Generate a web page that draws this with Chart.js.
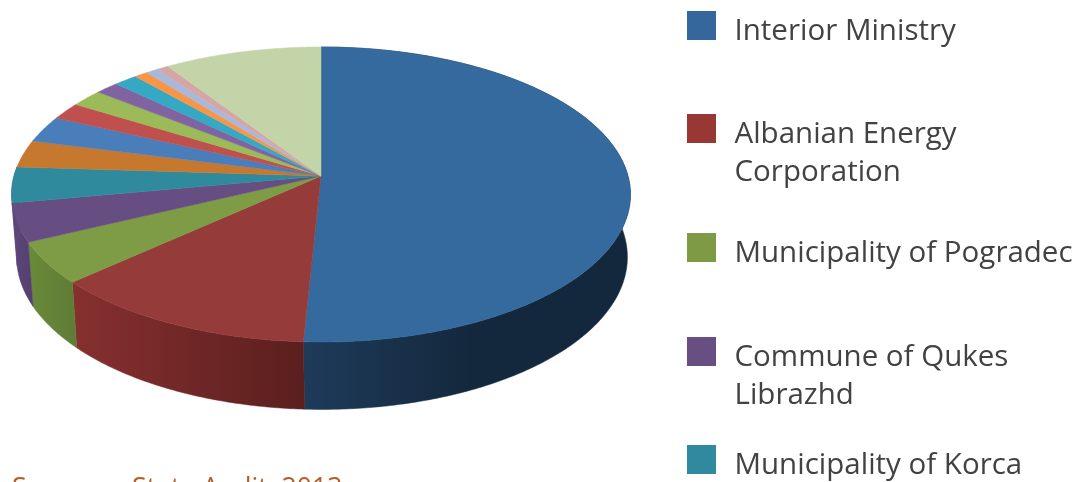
<!DOCTYPE html>
<html>
<head>
<meta charset="utf-8">
<title>State Audit pie</title>
<script src="https://cdn.jsdelivr.net/npm/chart.js@4"></script>
<style>
  html, body { margin: 0; padding: 0; background: #fff; }
  #wrap { position: relative; width: 1084px; height: 482px; overflow: hidden; font-family: "Open Sans", sans-serif; }
  #pie { position: absolute; left: 0; top: 0; filter: blur(0.7px); }
  .swatch { position: absolute; left: 687px; width: 29px; height: 29px; }
  .entry { position: absolute; left: 734.5px; font-size: 29.5px; line-height: 38px; color: #424242; white-space: pre-line; filter: blur(0.3px); }
  #source { position: absolute; left: 12px; top: 469px; font-size: 26.6px; line-height: 36px; color: #b0602c; white-space: pre; filter: blur(0.3px); }
</style>
</head>
<body>
<div id="wrap">
  <canvas id="pie" width="1084" height="482"></canvas>
  <div id="source"></div>
</div>
<script>
// shares in percent, clockwise from 12 o'clock
const sliceValues = [50.8, 12.5, 4.6, 4.2, 3.9, 3.0, 2.9, 1.9, 1.9, 1.4, 1.4, 0.8, 0.7, 0.7, 9.3];
const sliceColors = ['#356a9f', '#953c3a', '#7e9b45', '#664e83', '#2f8a9e', '#c7782f', '#4a7ebb', '#c0504d',
  '#9bbb59', '#8064a2', '#35a8c4', '#f79646', '#a7b8dc', '#d5a6a6', '#c3d5a8'];
// side wall colours, [left, right], only the slices facing the viewer need them
// the picture shows the wall under Korca as purple too
const wallColors = [['#1e3b5a', '#14283d'], ['#86302f', '#5a1f1e'], ['#6a8a3a', '#5f7c36'], ['#5c467a', '#54406f'], ['#5c467a', '#5c467a']];

const legendLabels = ['Interior Ministry', 'Albanian Energy\nCorporation', 'Municipality of Pogradec', 'Commune of Qukes\nLibrazhd', 'Municipality of Korca'];
const legendColors = ['#35679d', '#993735', '#7f9a45', '#674f82', '#2f8a9f'];
const legendTops = [11, 114, 233, 337, 445];
const sourceText = 'Source:    State Audit, 2013';

// perspective ellipse for the top face and the bottom rim
const topRim = { cx: 321, cy: 176, r: 307, k: 145.2, p: 0.1254 };
const bottomRim = { cx: 322, cy: 238, r: 303, k: 150, p: 0.125 };

function rimPoint(rim, a) {
  const u = Math.sin(a), v = -Math.cos(a);
  const w = 1 - rim.p * v;
  return [rim.cx + rim.r * u / w, rim.cy + rim.k * v / w];
}

function traceRim(ctx, rim, from, to) {
  const steps = Math.max(2, Math.ceil(Math.abs(to - from) / 0.01));
  for (let i = 0; i <= steps; i++) {
    const pt = rimPoint(rim, from + (to - from) * i / steps);
    ctx.lineTo(pt[0], pt[1]);
  }
}

const tiltedPie = {
  id: 'tiltedPie',
  beforeDatasetsDraw(chart) {
    const ctx = chart.ctx;
    const arcs = chart.getDatasetMeta(0).data;
    const turn = Math.PI / 2; // arcs start at -90deg

    // walls first, the top face covers whatever is behind
    ctx.save();
    arcs.forEach((arc, i) => {
      const wall = wallColors[i];
      if (!wall) return;
      const from = arc.startAngle + turn, to = arc.endAngle + turn;
      const a = rimPoint(bottomRim, from), b = rimPoint(bottomRim, to);
      const left = Math.min(a[0], b[0], rimPoint(topRim, from)[0], rimPoint(topRim, to)[0]);
      const right = i === 0 ? 470 : Math.max(a[0], b[0]);
      const grad = ctx.createLinearGradient(left, 0, right, 0);
      grad.addColorStop(0, wall[0]);
      grad.addColorStop(1, wall[1]);
      ctx.fillStyle = grad;
      ctx.strokeStyle = grad;
      ctx.lineWidth = 0.5;
      ctx.beginPath();
      traceRim(ctx, topRim, from, to);
      traceRim(ctx, bottomRim, to, from);
      ctx.closePath();
      ctx.fill();
      ctx.stroke();
    });

    arcs.forEach((arc, i) => {
      ctx.fillStyle = sliceColors[i];
      ctx.strokeStyle = sliceColors[i];
      ctx.lineWidth = 0.5;
      ctx.beginPath();
      ctx.moveTo(topRim.cx, topRim.cy);
      traceRim(ctx, topRim, arc.startAngle + turn, arc.endAngle + turn);
      ctx.closePath();
      ctx.fill();
      ctx.stroke();
    });
    ctx.restore();
    return false;
  }
};

new Chart(document.getElementById('pie').getContext('2d'), {
  type: 'pie',
  data: {
    labels: legendLabels,
    datasets: [{ data: sliceValues, backgroundColor: sliceColors, borderWidth: 0 }]
  },
  options: {
    responsive: false,
    animation: false,
    plugins: { legend: { display: false }, tooltip: { enabled: false } }
  },
  plugins: [tiltedPie]
});

const wrap = document.getElementById('wrap');
legendLabels.forEach((label, i) => {
  const box = document.createElement('div');
  box.className = 'swatch';
  box.style.top = legendTops[i] + 'px';
  box.style.background = legendColors[i];
  wrap.appendChild(box);
  const text = document.createElement('div');
  text.className = 'entry';
  text.style.top = (legendTops[i] - 1) + 'px';
  text.textContent = label;
  wrap.appendChild(text);
});
document.getElementById('source').textContent = sourceText;
</script>
</body>
</html>
